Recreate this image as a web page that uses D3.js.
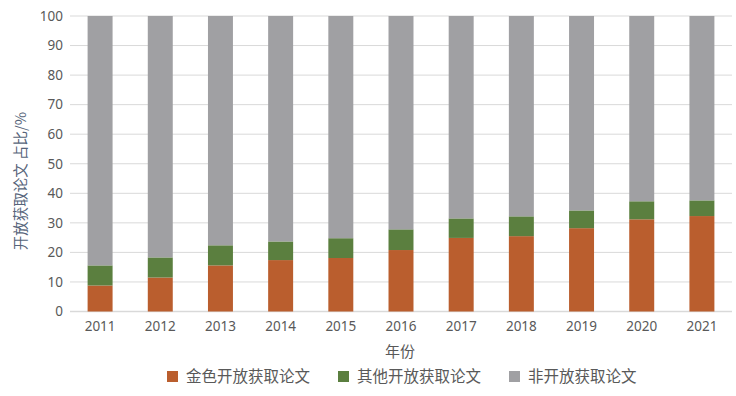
<!DOCTYPE html>
<html>
<head>
<meta charset="utf-8">
<script src="https://cdn.jsdelivr.net/npm/d3@7"></script>
<style>
  html, body { margin: 0; padding: 0; background: #fff; }
  svg { display: block; font-family: "Noto Sans", "Noto Sans CJK SC", sans-serif; }
</style>
</head>
<body>
<div id="chart"></div>
<script>
const years = ['2011', '2012', '2013', '2014', '2015', '2016', '2017', '2018', '2019', '2020', '2021']
const goldOA = [8.8, 11.5, 15.6, 17.4, 18.1, 20.8, 24.9, 25.5, 28.2, 31.2, 32.3]
const otherOA = [6.8, 6.8, 6.8, 6.3, 6.7, 7.0, 6.6, 6.7, 6.0, 6.1, 5.3]
const nonOA = [84.4, 81.7, 77.6, 76.3, 75.2, 72.2, 68.5, 67.8, 65.8, 62.7, 62.4]
const yTicks = [0, 10, 20, 30, 40, 50, 60, 70, 80, 90, 100]

const seriesNames = ['金色开放获取论文', '其他开放获取论文', '非开放获取论文']
const seriesKeys = ['gold', 'other', 'non']
const colors = ['#ba5e2e', '#5b7f3f', '#a0a0a3']

const W = 736, H = 396
const plot = { left: 70, right: 732, top: 16, bottom: 311.5 }

const rows = years.map((y, i) => ({ year: y, gold: goldOA[i], other: otherOA[i], non: nonOA[i] }))
const stacked = d3.stack().keys(seriesKeys)(rows)

const x = d3.scaleBand().domain(years).range([plot.left, plot.right]).paddingInner(0.585).paddingOuter(0.2925)
const y = d3.scaleLinear().domain([0, 100]).range([plot.bottom, plot.top])

const svg = d3.select('#chart').append('svg').attr('width', W).attr('height', H)

// gridlines
svg.append('g')
  .selectAll('line')
  .data(yTicks)
  .join('line')
    .attr('x1', plot.left).attr('x2', plot.right)
    .attr('y1', d => y(d)).attr('y2', d => y(d))
    .attr('stroke', '#d9d9d9')
    .attr('stroke-width', d => d === 0 ? 1.5 : 1)

// bars
svg.append('g')
  .selectAll('g')
  .data(stacked)
  .join('g')
    .attr('fill', (d, i) => colors[i])
  .selectAll('rect')
  .data(d => d)
  .join('rect')
    .attr('x', d => x(d.data.year))
    .attr('width', x.bandwidth())
    .attr('y', d => y(d[1]))
    .attr('height', d => y(d[0]) - y(d[1]))

// y axis labels
const yAxis = d3.axisLeft(y).tickValues(yTicks).tickSize(0).tickPadding(0)
svg.append('g')
  .attr('transform', `translate(${plot.left - 7},0)`)
  .call(yAxis)
  .call(g => g.select('.domain').remove())
  .call(g => g.selectAll('text')
    .attr('fill', '#595959')
    .attr('font-size', 13.5)
    .attr('font-family', '"Noto Sans", sans-serif'))

// x axis labels
const xAxis = d3.axisBottom(x).tickSize(0).tickPadding(0)
svg.append('g')
  .attr('transform', `translate(0,${plot.bottom + 10})`)
  .call(xAxis)
  .call(g => g.select('.domain').remove())
  .call(g => g.selectAll('text')
    .attr('fill', '#595959')
    .attr('font-size', 13.5)
    .attr('font-family', '"Noto Sans", sans-serif'))

// axis titles
svg.append('text')
  .attr('transform', 'translate(26,181) rotate(-90)')
  .attr('text-anchor', 'middle')
  .attr('font-size', 14.5)
  .attr('fill', '#56647a')
  .attr('font-family', '"Noto Sans CJK SC", sans-serif')
  .text('开放获取论文 占比/%')

svg.append('text')
  .attr('x', 400).attr('y', 357)
  .attr('text-anchor', 'middle')
  .attr('font-size', 15)
  .attr('fill', '#595959')
  .attr('font-family', '"Noto Sans CJK SC", sans-serif')
  .text('年份')

// legend
const legendX = [167, 338, 509]
const legend = svg.append('g')
  .selectAll('g')
  .data(seriesNames)
  .join('g')
    .attr('transform', (d, i) => `translate(${legendX[i]},371)`)
legend.append('rect')
  .attr('width', 11).attr('height', 11)
  .attr('fill', (d, i) => colors[i])
legend.append('text')
  .attr('x', 19).attr('y', 11)
  .attr('font-size', 15.5)
  .attr('fill', '#595959')
  .attr('font-family', '"Noto Sans CJK SC", sans-serif')
  .text(d => d)
</script>
</body>
</html>
